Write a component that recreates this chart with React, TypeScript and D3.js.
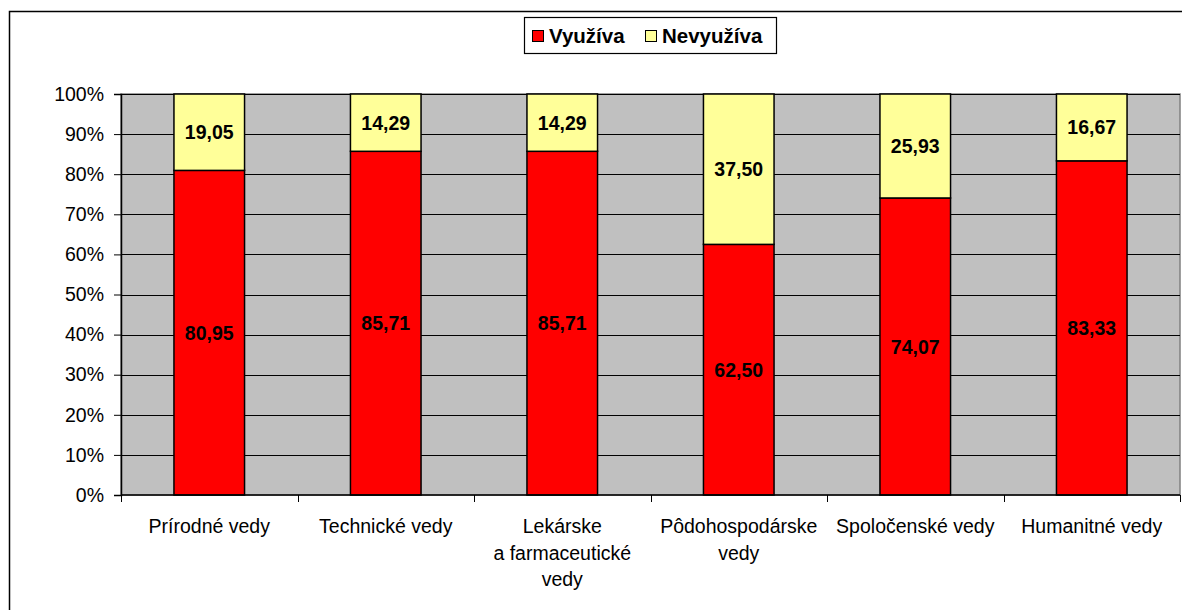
import React, { useEffect, useRef } from "react";
import * as d3 from "d3";

const categories = [
  ["Prírodné vedy"],
  ["Technické vedy"],
  ["Lekárske", "a farmaceutické", "vedy"],
  ["Pôdohospodárske", "vedy"],
  ["Spoločenské vedy"],
  ["Humanitné vedy"],
];
const uses = [80.95, 85.71, 85.71, 62.5, 74.07, 83.33];
const notUses = [19.05, 14.29, 14.29, 37.5, 25.93, 16.67];
const seriesNames = ["Využíva", "Nevyužíva"];
const seriesColors = ["#FF0000", "#FFFF99"];
const yTicks = [0, 10, 20, 30, 40, 50, 60, 70, 80, 90, 100];

const App = () => {
  const svgRef = useRef<SVGSVGElement>(null);

  useEffect(() => {
    const w = 1182;
    const h = 610;
    const left = 121, right = 1180, top = 94, bottom = 495;
    const font = "Liberation Sans, Arial, sans-serif";

    const svg = d3.select(svgRef.current).attr("width", w).attr("height", h);
    svg.selectAll("*").remove();

    // outer frame (clipped on right/bottom like the source)
    svg.append("rect")
      .attr("x", 9.5).attr("y", 11.5)
      .attr("width", 1300).attr("height", 800)
      .attr("fill", "white").attr("stroke", "#000").attr("stroke-width", 1.5);

    const keys = categories.map((_, i) => String(i));
    const x = d3.scaleBand().domain(keys).range([left, right]).paddingInner(0.6).paddingOuter(0.3);
    const xOuter = d3.scaleBand().domain(keys).range([left, right]);
    const y = d3.scaleLinear().domain([0, 100]).range([bottom, top]);

    // plot background
    svg.append("rect")
      .attr("x", left).attr("y", top)
      .attr("width", right - left).attr("height", bottom - top)
      .attr("fill", "#C0C0C0").attr("stroke", "#808080").attr("stroke-width", 1.5);

    // gridlines
    svg.append("g").selectAll("line")
      .data(yTicks.slice(1))
      .join("line")
      .attr("x1", left).attr("x2", right)
      .attr("y1", d => Math.round(y(d)) + 0.5).attr("y2", d => Math.round(y(d)) + 0.5)
      .attr("stroke", "#000").attr("stroke-width", 1);

    // stacked bars
    const rows = keys.map((k, i) => ({ k, vals: [uses[i], notUses[i]] }));
    rows.forEach(r => {
      let acc = 0;
      r.vals.forEach((v, s) => {
        const y0 = y(acc), y1 = y(acc + v);
        svg.append("rect")
          .attr("x", x(r.k)!).attr("y", y1)
          .attr("width", x.bandwidth()).attr("height", y0 - y1)
          .attr("fill", seriesColors[s]).attr("stroke", "#000").attr("stroke-width", 1.5);
        svg.append("text")
          .attr("x", x(r.k)! + x.bandwidth() / 2)
          .attr("y", (y0 + y1) / 2)
          .attr("dy", "0.36em")
          .attr("text-anchor", "middle")
          .attr("font-family", font).attr("font-weight", "bold").attr("font-size", 19.5)
          .text(v.toFixed(2).replace(".", ","));
        acc += v;
      });
    });

    // y axis
    const ya = svg.append("g")
      .attr("transform", `translate(${left},0)`)
      .call(d3.axisLeft(y).tickValues(yTicks).tickSize(7).tickPadding(10).tickFormat(d => `${d}%`));
    ya.select(".domain").attr("stroke", "#000").attr("stroke-width", 1.5);
    ya.selectAll(".tick line").attr("stroke", "#000");
    ya.selectAll("text").attr("font-family", font).attr("font-size", 19.5).attr("fill", "#000");

    // x axis
    svg.append("line")
      .attr("x1", left).attr("x2", right).attr("y1", bottom).attr("y2", bottom)
      .attr("stroke", "#000").attr("stroke-width", 1.5);
    const bounds = [...keys.map(k => xOuter(k)!), right];
    svg.append("g").selectAll("line")
      .data(bounds)
      .join("line")
      .attr("x1", d => Math.round(d) + 0.5).attr("x2", d => Math.round(d) + 0.5)
      .attr("y1", bottom).attr("y2", bottom + 7)
      .attr("stroke", "#000");

    categories.forEach((lines, i) => {
      const t = svg.append("text")
        .attr("text-anchor", "middle")
        .attr("font-family", font).attr("font-size", 19.5).attr("fill", "#000");
      lines.forEach((ln, j) => {
        t.append("tspan")
          .attr("x", xOuter(keys[i])! + xOuter.bandwidth() / 2)
          .attr("y", 533 + j * 26.5)
          .text(ln);
      });
    });

    // legend
    const lg = svg.append("g");
    lg.append("rect")
      .attr("x", 524.5).attr("y", 17.5).attr("width", 252).attr("height", 36)
      .attr("fill", "white").attr("stroke", "#000").attr("stroke-width", 1.2);
    const lx = [532, 645];
    seriesNames.forEach((n, i) => {
      lg.append("rect")
        .attr("x", lx[i] + 0.5).attr("y", 30.5).attr("width", 11).attr("height", 11)
        .attr("fill", seriesColors[i]).attr("stroke", "#000").attr("stroke-width", 1);
      lg.append("text")
        .attr("x", lx[i] + 17).attr("y", 42.5)
        .attr("font-family", font).attr("font-weight", "bold").attr("font-size", 20.5)
        .text(n);
    });
  }, []);

  return (
    <div style={{ position: "absolute", left: 0, top: 0 }}>
      <svg ref={svgRef} style={{ display: "block" }}></svg>
    </div>
  );
};

export default App;
